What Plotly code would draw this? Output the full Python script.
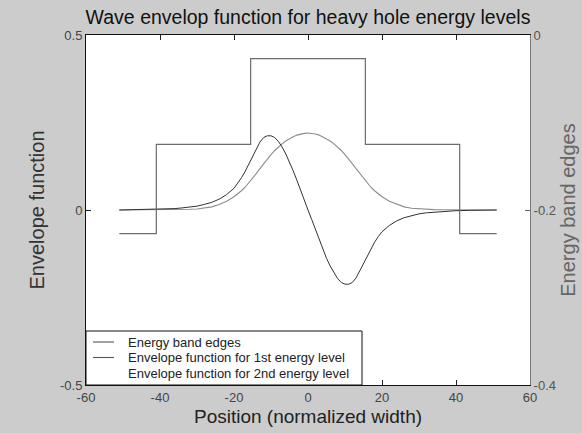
import plotly.graph_objects as go

# Position grid (normalized width) shared by both envelope functions
position = [-51, -48, -44, -40, -38, -36, -34, -32, -30, -28, -26, -24, -22, -20, -19, -18, -17,
            -16, -15, -14, -13, -12, -11, -10, -9, -8, -7, -6, -5, -4, -3, -2, -1, 0,
            1, 2, 3, 4, 5, 6, 7, 8, 9, 10, 11, 12, 13, 14, 15, 16, 17,
            18, 19, 20, 22, 24, 26, 28, 30, 32, 34, 36, 38, 40, 44, 48, 51]

# Envelope function of the 1st heavy-hole level (even state)
envelope_1st = [0, 0, 0.0001, 0.0003, 0.0004, 0.0007, 0.001, 0.002, 0.003, 0.005, 0.009, 0.016,
                0.025, 0.038, 0.046, 0.055, 0.065, 0.077, 0.090, 0.104, 0.118, 0.132, 0.146,
                0.158, 0.170, 0.180, 0.189, 0.197, 0.204, 0.209, 0.214, 0.217, 0.219, 0.220,
                0.219, 0.217, 0.214, 0.209, 0.204, 0.197, 0.189, 0.180, 0.170, 0.158, 0.146,
                0.132, 0.118, 0.104, 0.090, 0.077, 0.065, 0.055, 0.046, 0.038, 0.025, 0.016,
                0.009, 0.005, 0.003, 0.002, 0.001, 0.0007, 0.0004, 0.0003, 0.0001, 0, 0]

# Envelope function of the 2nd heavy-hole level (odd state)
envelope_2nd = [0, 0.0004, 0.001, 0.002, 0.003, 0.004, 0.006, 0.008, 0.011, 0.016, 0.022, 0.031,
                0.044, 0.062, 0.076, 0.092, 0.110, 0.130, 0.152, 0.174, 0.194, 0.207, 0.212,
                0.212, 0.207, 0.196, 0.180, 0.160, 0.138, 0.112, 0.085, 0.055, 0.027, 0,
                -0.027, -0.055, -0.085, -0.112, -0.138, -0.160, -0.180, -0.196, -0.207, -0.212,
                -0.212, -0.207, -0.194, -0.174, -0.152, -0.130, -0.110, -0.092, -0.076, -0.062,
                -0.044, -0.031, -0.022, -0.016, -0.011, -0.008, -0.006, -0.004, -0.003, -0.002,
                -0.001, -0.0004, 0]

# Valence band edge profile (step breakpoints, held until the next one)
band_position = [-51, -41, -15.5, 15.5, 41, 51]
band_energy = [-0.227, -0.125, -0.027, -0.125, -0.227, -0.227]

x_ticks = [-60, -40, -20, 0, 20, 40, 60]
x_ticktext = ["-60", "-40", "-20", "0", "20", "40", "60"]
y_ticks = [-0.5, 0, 0.5]
y_ticktext = ["-0.5", "0", "0.5"]
y2_ticks = [-0.4, -0.2, 0]
y2_ticktext = ["-0.4", "-0.2", "0"]

legend_names = ["Energy band edges",
                "Envelope function for 1st energy level",
                "Envelope function for 2nd energy level"]

FONT = "Arial, Liberation Sans, sans-serif"
BAND_COLOR = "#6c6c6c"
ENV1_COLOR = "#8c8c8c"
ENV2_COLOR = "#333333"

fig = go.Figure()

fig.add_trace(go.Scatter(
    x=band_position, y=band_energy, yaxis="y2", mode="lines",
    line=dict(color=BAND_COLOR, width=1.2, shape="hv"),
    name=legend_names[0], showlegend=False))

fig.add_trace(go.Scatter(
    x=position, y=envelope_1st, mode="lines",
    line=dict(color=ENV1_COLOR, width=1.1),
    name=legend_names[1], showlegend=False))

fig.add_trace(go.Scatter(
    x=position, y=envelope_2nd, mode="lines",
    line=dict(color=ENV2_COLOR, width=1.0),
    name=legend_names[2], showlegend=False))

# Boxed legend in the lower-left corner of the axes (pixel layout converted to paper units)
PLOT_L, PLOT_R, PLOT_T, PLOT_B = 86, 530, 35, 385


def px_x(px):
    return (px - PLOT_L) / (PLOT_R - PLOT_L)


def px_y(py):
    return (PLOT_B - py) / (PLOT_B - PLOT_T)


shapes = [dict(type="rect", xref="paper", yref="paper",
               x0=px_x(86), x1=px_x(362), y0=px_y(385), y1=px_y(331),
               line=dict(color="#111", width=1), fillcolor="white", layer="above")]
annotations = []
sample_colors = ["#555555", "#555555", None]  # last entry is listed without a line
for i, name in enumerate(legend_names):
    row_y = 342 + i * 15.5
    if sample_colors[i] is not None:
        shapes.append(dict(type="line", xref="paper", yref="paper",
                           x0=px_x(93), x1=px_x(114), y0=px_y(row_y), y1=px_y(row_y),
                           line=dict(color=sample_colors[i], width=1.1), layer="above"))
    annotations.append(dict(text=name, xref="paper", yref="paper",
                            x=px_x(126), y=px_y(row_y), xanchor="left", yanchor="middle",
                            showarrow=False, font=dict(family=FONT, size=13, color="#222")))

fig.update_layout(
    template="none",
    width=582, height=433,
    margin=dict(l=PLOT_L, r=582 - PLOT_R, t=PLOT_T, b=433 - PLOT_B),
    paper_bgcolor="#cccccc",
    plot_bgcolor="white",
    font=dict(family=FONT, color="#222"),
    showlegend=False,
    title=dict(text="Wave envelop function for heavy hole energy levels",
               x=0.5, xref="paper", xanchor="center",
               y=1 - 17 / 433, yref="container", yanchor="middle",
               font=dict(family=FONT, size=19.5, color="#111")),
    xaxis=dict(range=[-60, 60], tickvals=x_ticks, ticktext=x_ticktext,
               ticks="inside", ticklen=5, tickcolor="#222",
               showline=True, linecolor="#111", linewidth=1, mirror="ticks",
               showgrid=False, zeroline=False,
               tickfont=dict(family=FONT, size=13, color="#444"),
               title=dict(text="Position (normalized width)", standoff=6,
                          font=dict(family=FONT, size=19, color="#222"))),
    yaxis=dict(range=[-0.5, 0.5], tickvals=y_ticks, ticktext=y_ticktext,
               ticks="inside", ticklen=5, tickcolor="#222",
               showline=True, linecolor="#111", linewidth=1,
               showgrid=False, zeroline=False,
               tickfont=dict(family=FONT, size=13, color="#444"),
               title=dict(text="Envelope function", standoff=9,
                          font=dict(family=FONT, size=20, color="#333"))),
    yaxis2=dict(range=[-0.4, 0], tickvals=y2_ticks, ticktext=y2_ticktext,
                overlaying="y", side="right",
                ticks="inside", ticklen=5, tickcolor="#666",
                showline=True, linecolor="#777", linewidth=1,
                showgrid=False, zeroline=False,
                tickfont=dict(family=FONT, size=13, color="#555"),
                title=dict(text="Energy band edges", standoff=5,
                           font=dict(family=FONT, size=20, color="#666"))),
    shapes=shapes,
    annotations=annotations,
)

fig.write_html("out.html")
